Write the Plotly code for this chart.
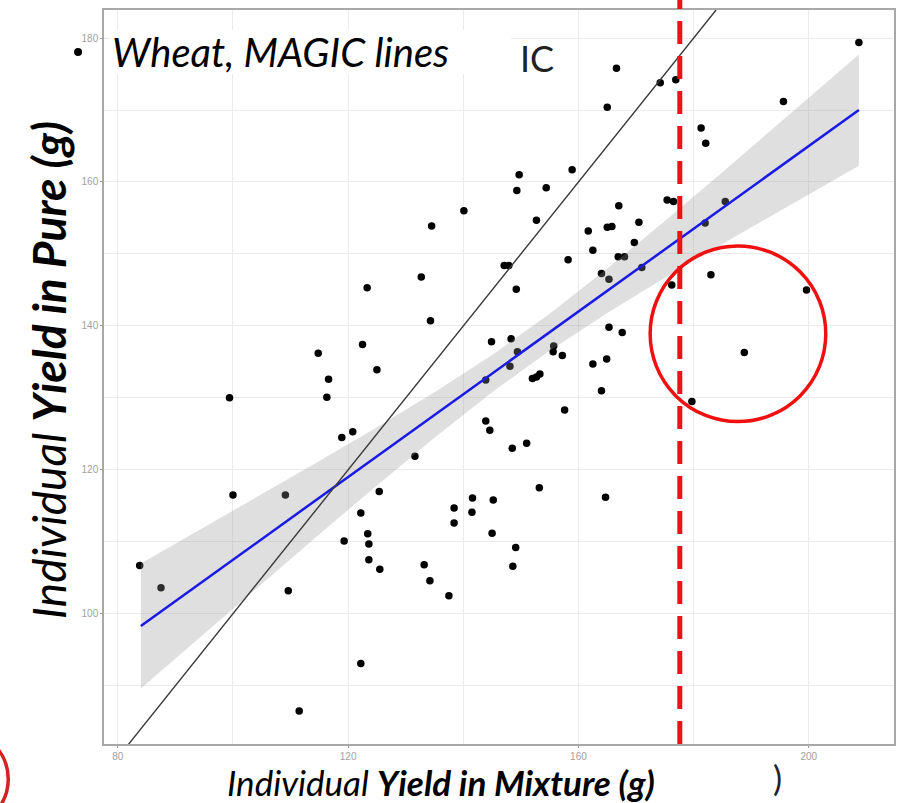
import plotly.graph_objects as go

# ---- data ----
mix_yield = [83.8, 87.5, 99.4, 100.0, 109.1, 109.6, 111.5, 122.2, 114.8, 116.6,
             116.3, 118.9, 120.8, 122.5, 123.3, 125.0, 125.4, 122.2, 119.3, 123.4,
             123.6, 123.6, 125.5, 131.6, 132.7, 134.3, 134.5, 133.2, 134.2, 137.5,
             140.1, 138.4, 138.4, 141.6, 141.5, 145.2, 145.0, 143.9, 144.6, 143.9,
             144.9, 148.3, 149.4, 148.1, 149.2, 147.1, 147.9, 149.3, 149.7, 154.4,
             158.9, 152.7, 158.2, 155.7, 155.6, 157.2, 152.0, 152.7, 153.3, 148.5,
             151.0, 153.2, 149.1, 148.6, 157.6, 161.7, 165.0, 165.8, 162.5, 164.0,
             165.3, 166.9, 168.0, 167.0, 169.7, 170.5, 171.0, 165.3, 167.6, 162.5,
             164.9, 164.0, 164.7, 175.4, 176.5, 176.2, 179.7, 182.0, 185.5, 183.0,
             181.3, 182.1, 188.8, 199.6, 195.6, 208.7, 166.6, 174.2, 176.9, 165.0]
pure_yield = [106.7, 103.6, 130.0, 116.5, 116.5, 103.2, 86.5, 93.1, 136.2, 132.6,
              130.1, 124.5, 125.3, 137.4, 145.3, 133.9, 117.0, 114.0, 110.1, 111.1,
              109.7, 107.5, 106.2, 121.9, 146.8, 140.7, 153.9, 106.8, 104.6, 102.5,
              156.0, 114.7, 112.6, 116.1, 114.1, 115.8, 111.2, 126.8, 125.5, 132.5,
              137.8, 138.2, 136.4, 134.4, 145.1, 148.4, 148.4, 158.8, 161.0, 159.2,
              161.7, 154.7, 149.2, 137.2, 136.4, 135.9, 132.7, 132.9, 133.3, 123.0,
              123.7, 117.5, 109.2, 106.6, 128.3, 153.2, 153.7, 153.8, 150.5, 147.3,
              146.5, 149.6, 149.6, 156.7, 151.6, 154.4, 148.1, 139.8, 139.1, 134.7,
              135.4, 131.0, 116.2, 157.5, 157.3, 145.7, 129.5, 154.3, 157.3, 147.1,
              167.5, 165.4, 136.3, 145.0, 171.2, 179.4, 175.8, 173.8, 174.2, 170.4]

# fitted regression line and its confidence band
fit_x = [84, 95, 105, 115, 125, 135, 145, 155, 165, 175, 185, 195, 208.7]
fit_intercept = 50.0
fit_slope = 0.575
band_half = [8.68, 7.37, 6.21, 5.09, 4.05, 3.16, 2.59, 2.56, 3.09, 3.95, 4.99, 6.10, 7.73]

threshold_x = 177.6          # red dashed vertical line
circle_center = (187.7, 138.9)
circle_radius = (15.25, 12.2)

x_ticks = [80, 120, 160, 200]
y_ticks = [100, 120, 140, 160, 180]
x_range = [77.6, 214.8]
y_range = [81.9, 183.9]

fit_y = [fit_intercept + fit_slope * x for x in fit_x]
band_lo = [y - h for y, h in zip(fit_y, band_half)]
band_hi = [y + h for y, h in zip(fit_y, band_half)]

fig = go.Figure()

fig.add_trace(go.Scatter(x=mix_yield, y=pure_yield, mode="markers",
                         marker=dict(color="black", size=7.5, line=dict(width=0)),
                         hoverinfo="skip"))
# confidence band drawn over points (semi-transparent, like ggplot)
fig.add_trace(go.Scatter(x=fit_x + fit_x[::-1], y=band_hi + band_lo[::-1],
                         mode="lines", fill="toself", line=dict(width=0),
                         fillcolor="rgba(150,150,150,0.30)", hoverinfo="skip"))
fig.add_trace(go.Scatter(x=fit_x, y=fit_y, mode="lines",
                         line=dict(color="#1a1ae6", width=2.5), hoverinfo="skip"))
# 1:1 line
fig.add_trace(go.Scatter(x=[x_range[0], y_range[1]], y=[x_range[0], y_range[1]],
                         mode="lines", line=dict(color="#3a3a3a", width=1.4),
                         hoverinfo="skip"))

# red dashed threshold
fig.add_shape(type="line", xref="x", yref="paper", x0=threshold_x, x1=threshold_x,
              y0=0, y1=1.0136, line=dict(color="#e8141c", width=5, dash="23px,12px"))
# red circle
fig.add_shape(type="circle", xref="x", yref="y",
              x0=circle_center[0] - circle_radius[0], x1=circle_center[0] + circle_radius[0],
              y0=circle_center[1] - circle_radius[1], y1=circle_center[1] + circle_radius[1],
              line=dict(color="#f01010", width=3.5))
# partial red arc at bottom-left
fig.add_shape(type="circle", xref="paper", yref="paper",
              x0=-0.2424, x1=-0.1212, y0=(744 - 827) / 734, y1=(744 - 731) / 734,
              line=dict(color="#d42020", width=3.5))
# bullet dot left of the title
fig.add_shape(type="circle", xref="paper", yref="paper",
              x0=(74 - 104) / 792, x1=(82 - 104) / 792,
              y0=(744 - 56) / 734, y1=(744 - 48) / 734,
              fillcolor="black", line=dict(width=0))

# title box
fig.add_shape(type="rect", xref="paper", yref="paper",
              x0=(110 - 104) / 792, x1=(512 - 104) / 792,
              y0=(744 - 74) / 734, y1=(744 - 30) / 734,
              fillcolor="white", line=dict(width=0), layer="above")

fig.add_annotation(xref="paper", yref="paper", x=(110 - 104) / 792, y=(744 - 52) / 734,
                   xanchor="left", yanchor="middle", showarrow=False,
                   text="<i>Wheat, MAGIC lines</i>",
                   font=dict(family="Lato", size=40, color="black"))
fig.add_annotation(xref="paper", yref="paper", x=(519 - 104) / 792, y=(744 - 58) / 734,
                   xanchor="left", yanchor="middle", showarrow=False,
                   text="IC", font=dict(family="Lato", size=36, color="#222"))

fig.add_annotation(xref="paper", yref="paper", x=(441.5 - 104) / 792, y=(744 - 782) / 734,
                   xanchor="center", yanchor="middle", showarrow=False,
                   text="<i>Individual <b>Yield in Mixture (g)</b></i>",
                   font=dict(family="Lato", size=35, color="black"))
fig.add_annotation(xref="paper", yref="paper", x=(48 - 104) / 792, y=(744 - 370) / 734,
                   xanchor="center", yanchor="middle", showarrow=False, textangle=-90,
                   text="<i>Individual <b>Yield in Pure (g)</b></i>",
                   font=dict(family="Lato", size=46, color="black"))
fig.add_annotation(xref="paper", yref="paper", x=(779 - 104) / 792, y=(744 - 778) / 734,
                   xanchor="center", yanchor="middle", showarrow=False,
                   text=")", font=dict(family="Lato", size=34, color="#222"))

axis_common = dict(showline=True, linecolor="#a8a8a8", linewidth=1.5, mirror=True,
                   ticks="outside", ticklen=2, tickcolor="#999", tickwidth=1,
                   gridcolor="#ebebeb", gridwidth=1, zeroline=False,
                   tickfont=dict(family="Liberation Sans", size=10, color="#a0a0a0"))

fig.update_xaxes(range=x_range, tickvals=x_ticks,
                 minor=dict(dtick=20, tick0=80, showgrid=True, gridcolor="#ebebeb", ticks=""),
                 **axis_common)
fig.update_yaxes(range=y_range, tickvals=y_ticks,
                 minor=dict(dtick=10, tick0=100, showgrid=True, gridcolor="#ebebeb", ticks=""),
                 **axis_common)

fig.update_layout(width=903, height=803, showlegend=False,
                  paper_bgcolor="white", plot_bgcolor="white",
                  margin=dict(l=104, r=7, t=10, b=59))

fig.write_html("out.html")
